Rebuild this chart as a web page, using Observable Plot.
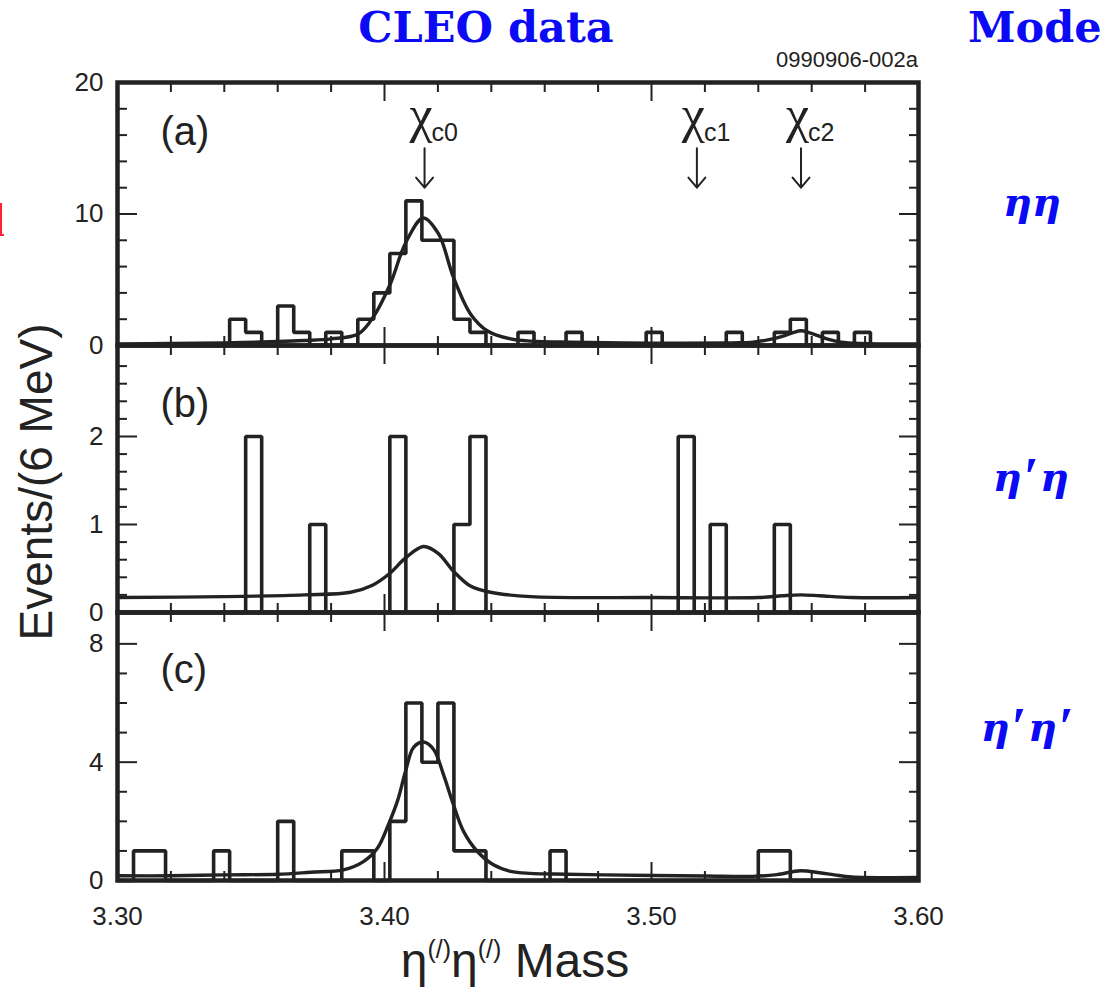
<!DOCTYPE html>
<html><head><meta charset="utf-8">
<script src="https://cdn.jsdelivr.net/npm/d3@7"></script>
<script src="https://cdn.jsdelivr.net/npm/@observablehq/plot@0.6"></script>
<style>
html,body{margin:0;padding:0;background:#fff;}
#wrap{position:relative;width:1116px;height:987px;overflow:hidden;font-family:"Liberation Sans",Arial,sans-serif;color:#222;}
.abs{position:absolute;line-height:1;white-space:nowrap;}
.blue{color:#0a0af5;font-family:"DejaVu Serif",serif;font-weight:bold;}
.mode{color:#0a0af5;font-family:"DejaVu Serif",serif;font-weight:bold;font-style:italic;font-size:40px;width:200px;text-align:center;}
.prime{font-family:"Liberation Serif",serif;font-size:54px;font-weight:bold;font-style:normal;position:relative;top:4px;margin:0 1px 0 2px;}
.sup{font-size:25px;position:relative;top:-19px;}
.panel{position:absolute;left:0;}
.redbar{position:absolute;background:#f23;}
</style></head><body><div id="wrap"></div>
<script>
// ---- data ----
const xMin = 3.30, xMax = 3.60;
const binStart = 3.30;      // GeV, lower edge of first bin
const binWidth = 0.006;     // 6 MeV bins
// events per bin (50 bins from 3.300 to 3.600 GeV)
const countsA = [0,0,0,0,0,0,0,2,1,0, 3,1,0,1,0,2,4,7,11,8, 8,2,1,0,0,1,0,0,1,0, 0,0,0,1,0,0,0,0,1,0, 0,1,2,0,1,0,1,0,0,0];
const countsB = [0,0,0,0,0,0,0,0,2,0, 0,0,1,0,0,0,0,2,0,0, 0,1,2,0,0,0,0,0,0,0, 0,0,0,0,0,2,0,1,0,0, 0,1,0,0,0,0,0,0,0,0];
const countsC = [0,1,1,0,0,0,1,0,0,0, 2,0,0,0,1,1,0,2,6,4, 6,1,1,0,0,0,0,1,0,0, 0,0,0,0,0,0,0,0,0,0, 1,1,0,0,0,0,0,0,0,0];
// fitted curves
const fitAx = [3.300,3.320,3.340,3.360,3.370,3.380,3.3903,3.3959,3.4022,3.4079,3.4145,3.4202,3.4258,3.4322,3.4386,3.4472,3.455,3.470,3.500,3.530,3.538,3.544,3.549,3.553,3.556,3.559,3.563,3.566,3.571,3.578,3.600];
const fitAy = [0.12,0.15,0.2,0.3,0.38,0.5,0.9,2.2,4.7,7.8,9.7,8.5,5.2,2.4,1.1,0.5,0.33,0.25,0.18,0.2,0.25,0.45,0.7,0.98,1.12,0.98,0.7,0.48,0.26,0.16,0.12];
const fitBx = [3.300,3.340,3.370,3.3873,3.3955,3.4018,3.4079,3.4146,3.4202,3.4258,3.4322,3.4397,3.4547,3.500,3.540,3.549,3.556,3.563,3.575,3.600];
const fitBy = [0.17,0.18,0.2,0.23,0.31,0.44,0.62,0.75,0.67,0.47,0.30,0.23,0.18,0.17,0.17,0.19,0.2,0.19,0.17,0.17];
const fitCx = [3.300,3.320,3.340,3.360,3.3723,3.3846,3.3921,3.3974,3.4015,3.4049,3.4079,3.4109,3.4146,3.4184,3.4221,3.4258,3.4296,3.4348,3.4408,3.4472,3.4547,3.4633,3.482,3.520,3.538,3.547,3.5558,3.563,3.5685,3.575,3.600];
const fitCy = [0.16,0.16,0.19,0.21,0.28,0.36,0.64,1.1,1.9,2.7,3.7,4.5,4.68,4.43,3.58,2.57,1.66,0.98,0.53,0.31,0.24,0.22,0.19,0.15,0.14,0.2,0.33,0.26,0.19,0.12,0.1];
// resonance markers
const chiX = [3.415, 3.517, 3.556];
const chiSub = ["c0", "c1", "c2"];
const arrowTop = 15.0, arrowTip = 12.0;
// ticks
const xMinor = [3.32,3.34,3.36,3.38,3.42,3.44,3.46,3.48,3.52,3.54,3.56,3.58];
const xMajor = [3.40, 3.50];
const xLabels = [3.30, 3.40, 3.50, 3.60];
const panelNames = ["(a)", "(b)", "(c)"];

// ---- drawing ----
const ink = "#222";
const wrap = document.getElementById("wrap");

function histPoints(counts) {
  const pts = counts.map((c, i) => ({x: binStart + i * binWidth, y: c}));
  pts.push({x: binStart + counts.length * binWidth, y: counts[counts.length - 1]});
  return pts;
}
function tickAxes(yMinor, yMajor) {
  const o = {fill: "none", label: null, stroke: ink, strokeWidth: 2};
  return [
    Plot.axisX({...o, ticks: xMinor, anchor: "bottom", tickSize: -9}),
    Plot.axisX({...o, ticks: xMajor, anchor: "bottom", tickSize: -18}),
    Plot.axisX({...o, ticks: xMinor, anchor: "top", tickSize: -9}),
    Plot.axisX({...o, ticks: xMajor, anchor: "top", tickSize: -18}),
    Plot.axisY({...o, ticks: yMinor, anchor: "left", tickSize: -10}),
    Plot.axisY({...o, ticks: yMajor, anchor: "left", tickSize: -20}),
    Plot.axisY({...o, ticks: yMinor, anchor: "right", tickSize: -10}),
    Plot.axisY({...o, ticks: yMajor, anchor: "right", tickSize: -20})
  ];
}
function panel({counts, fitX, fitY, yMax, yMinor, yMajor, yLabels, frameTop, frameBottom, mb, showX, name, nameDy, extra = []}) {
  const mt = 30;
  const fit = fitX.map((x, i) => ({x, y: fitY[i]}));
  const svg = Plot.plot({
    width: 1116, height: mt + (frameBottom - frameTop) + mb,
    marginLeft: 117, marginRight: 198, marginTop: mt, marginBottom: mb,
    x: {domain: [xMin, xMax]},
    y: {domain: [0, yMax]},
    style: "overflow:visible;background:transparent;font-family:'Liberation Sans',Arial,sans-serif;",
    marks: [
      ...tickAxes(yMinor, yMajor),
      Plot.axisY({ticks: yLabels, anchor: "left", tickSize: 0, tickPadding: 14, tickFormat: d => String(d), fontSize: 26, label: null, fill: ink}),
      showX ? Plot.axisX({ticks: xLabels, anchor: "bottom", tickSize: 0, tickPadding: 26, tickFormat: d3.format(".2f"), fontSize: 26, label: null, fill: ink}) : null,
      Plot.line(histPoints(counts), {x: "x", y: "y", curve: "step-after", stroke: ink, strokeWidth: 3.6, strokeLinejoin: "miter"}),
      Plot.line(fit, {x: "x", y: "y", curve: "catmull-rom", stroke: ink, strokeWidth: 3.4}),
      Plot.text([name], {frameAnchor: "top-left", dx: 43, dy: nameDy, lineAnchor: "bottom", textAnchor: "start", fontSize: 40, fill: ink}),
      ...extra,
      Plot.frame({stroke: ink, strokeWidth: 4.5})
    ]
  });
  const holder = document.createElement("div");
  holder.className = "panel";
  holder.style.top = (frameTop - mt) + "px";
  holder.appendChild(svg);
  wrap.appendChild(holder);
}

const chiMarks = [
  Plot.arrow(chiX, {x1: d => d, x2: d => d, y1: () => arrowTop, y2: () => arrowTip, stroke: ink, strokeWidth: 2, headLength: 12, headAngle: 80}),
  Plot.text(chiX, {x: d => d, text: () => "\u03c7", frameAnchor: "top", lineAnchor: "bottom", textAnchor: "end", dx: 8, dy: 49, fontSize: 52, fontFamily: "Liberation Serif", fill: ink}),
  Plot.text(chiX, {x: d => d, text: (d, i) => chiSub[i], frameAnchor: "top", lineAnchor: "bottom", textAnchor: "start", dx: 7, dy: 58, fontSize: 25, fill: ink})
];

panel({counts: countsA, fitX: fitAx, fitY: fitAy, yMax: 20, yMinor: [2,4,6,8,12,14,16,18], yMajor: [10], yLabels: [0,10,20],
  frameTop: 82, frameBottom: 345, mb: 20, showX: false, name: panelNames[0], nameDy: 62, extra: chiMarks});
panel({counts: countsB, fitX: fitBx, fitY: fitBy, yMax: 3.034, yMinor: [0.2,0.4,0.6,0.8,1.2,1.4,1.6,1.8,2.2,2.4,2.6,2.8], yMajor: [1,2], yLabels: [0,1,2],
  frameTop: 345, frameBottom: 612, mb: 20, showX: false, name: panelNames[1], nameDy: 71});
panel({counts: countsC, fitX: fitCx, fitY: fitCy, yMax: 9.06, yMinor: [1,2,3,5,6,7], yMajor: [4,8], yLabels: [0,4,8],
  frameTop: 612, frameBottom: 880, mb: 70, showX: true, name: panelNames[2], nameDy: 70});

// ---- text around the chart ----
function addText(html, cls, css) {
  const d = document.createElement("div");
  d.className = "abs " + cls;
  d.innerHTML = html;
  Object.assign(d.style, css);
  wrap.appendChild(d);
  return d;
}
addText("CLEO data", "blue", {left: "286px", width: "400px", textAlign: "center", top: "6px", fontSize: "43px"});
addText("Mode", "blue", {left: "968px", top: "6px", fontSize: "43px"});
addText("0990906-002a", "", {right: "198px", top: "49px", fontSize: "22px"});
addText("\u03b7\u03b7", "mode", {left: "932px", top: "182px"});
addText("\u03b7<span class='prime'>\u2032</span>\u03b7", "mode", {left: "931px", top: "446px"});
addText("\u03b7<span class='prime'>\u2032</span>\u03b7<span class='prime'>\u2032</span>", "mode", {left: "928px", top: "696px"});
addText("Events/(6 MeV)", "", {left: "36px", top: "482px", fontSize: "46px", transform: "translate(-50%,-50%) rotate(-90deg)"});
addText("\u03b7<span class='sup'>(/)</span>\u03b7<span class='sup'>(/)</span> Mass", "", {left: "315px", width: "400px", textAlign: "center", top: "937px", fontSize: "48px"});
// clipped red fragment at the left edge
const r1 = document.createElement("div"); r1.className = "redbar";
Object.assign(r1.style, {left: "0px", top: "203px", width: "2px", height: "33px"}); wrap.appendChild(r1);
const r2 = document.createElement("div"); r2.className = "redbar";
Object.assign(r2.style, {left: "0px", top: "234px", width: "4px", height: "2px"}); wrap.appendChild(r2);
</script></body></html>
